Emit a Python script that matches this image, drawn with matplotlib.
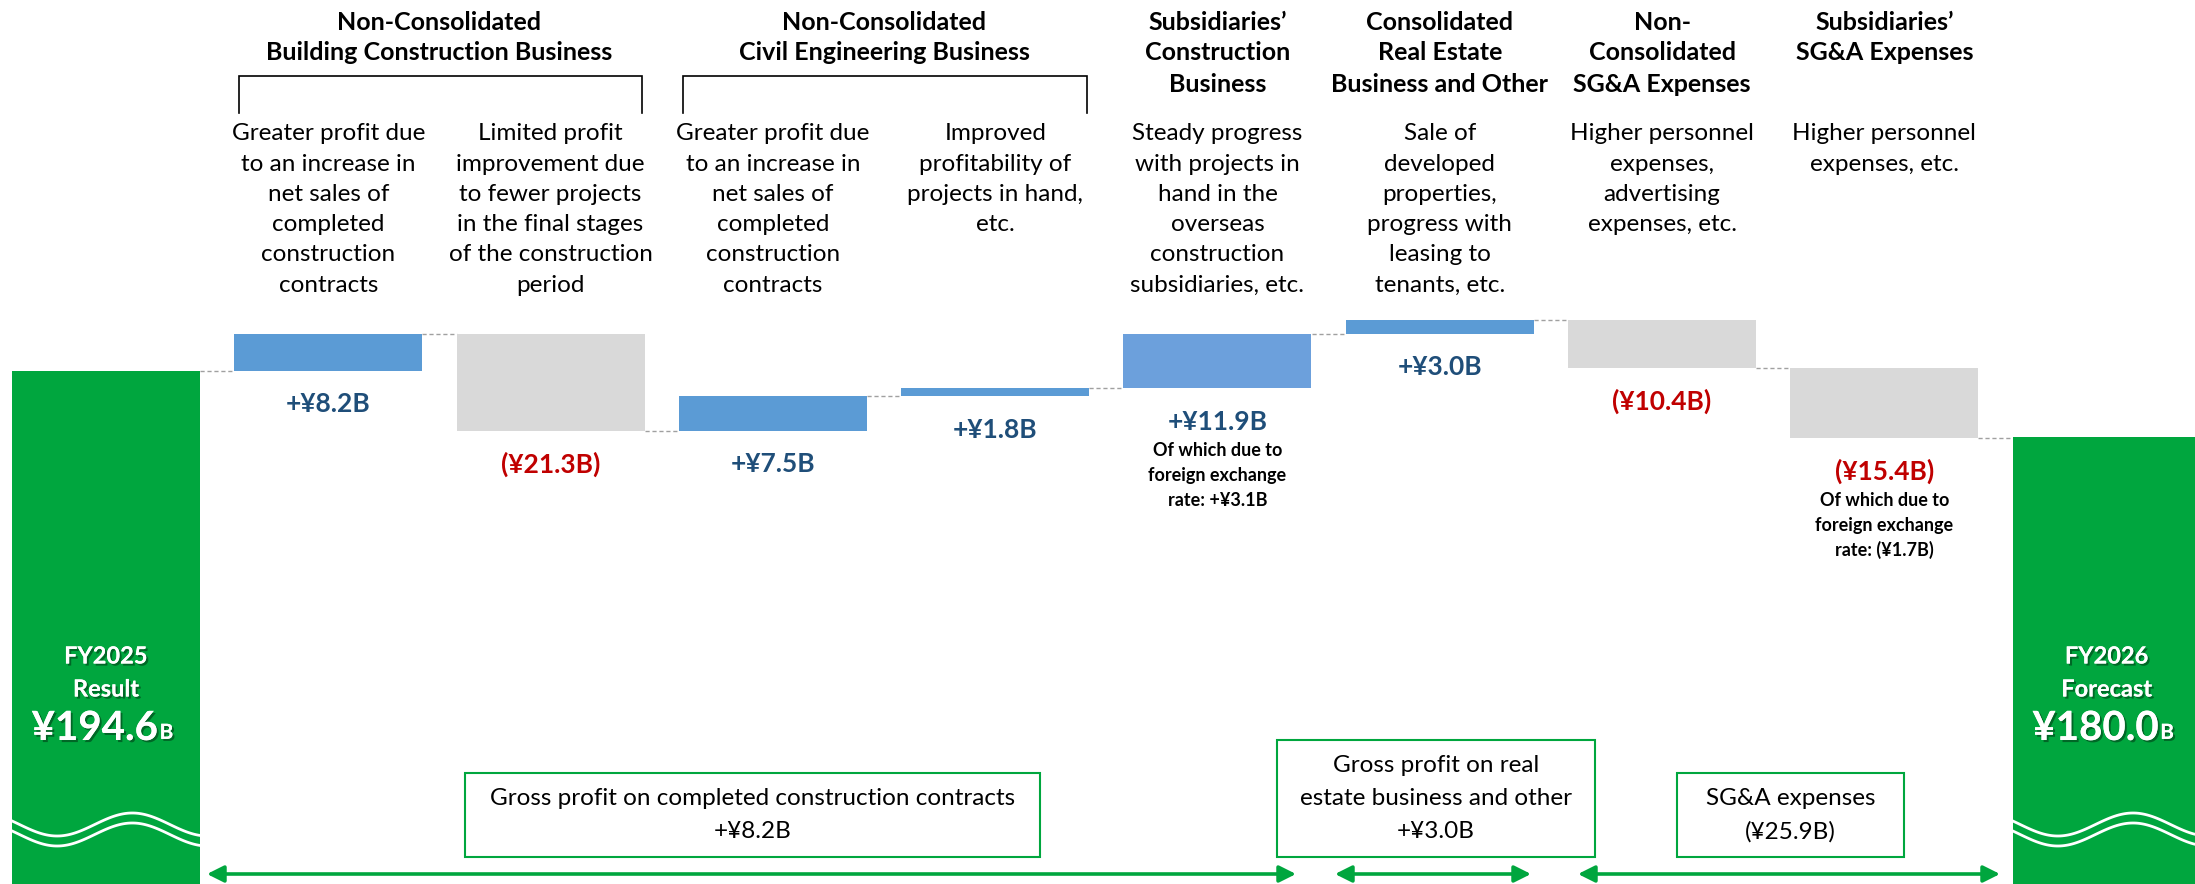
import numpy as np
import matplotlib
matplotlib.use("Agg")
import matplotlib.pyplot as plt
import matplotlib.patches as mpatches
import matplotlib.patheffects as pe
from matplotlib.transforms import blended_transform_factory

plt.rcParams['font.family'] = ['Lato', 'DejaVu Sans']

# ---- data ----
start_value = 194.6
end_value = 180.0
start_lines = ["FY2025", "Result"]
end_lines = ["FY2026", "Forecast"]
start_amount = "¥194.6"
end_amount = "¥180.0"
steps = [8.2, -21.3, 7.5, 1.8, 11.9, 3.0, -10.4, -15.4]
step_labels = ["+¥8.2B", "(¥21.3B)", "+¥7.5B", "+¥1.8B",
               "+¥11.9B", "+¥3.0B", "(¥10.4B)", "(¥15.4B)"]
step_colors = ["#5B9BD5", "#D9D9D9", "#5B9BD5", "#5B9BD5",
               "#6CA0DC", "#5B9BD5", "#D9D9D9", "#D9D9D9"]
descriptions = [
    ["Greater profit due", "to an increase in", "net sales of", "completed", "construction", "contracts"],
    ["Limited profit", "improvement due", "to fewer projects", "in the final stages", "of the construction", "period"],
    ["Greater profit due", "to an increase in", "net sales of", "completed", "construction", "contracts"],
    ["Improved", "profitability of", "projects in hand,", "etc."],
    ["Steady progress", "with projects in", "hand in the", "overseas", "construction", "subsidiaries, etc."],
    ["Sale of", "developed", "properties,", "progress with", "leasing to", "tenants, etc."],
    ["Higher personnel", "expenses,", "advertising", "expenses, etc."],
    ["Higher personnel", "expenses, etc."],
]
headers = [
    (1.5, ["Non-Consolidated", "Building Construction Business"]),
    (3.5, ["Non-Consolidated", "Civil Engineering Business"]),
    (5, ["Subsidiaries\u2019", "Construction", "Business"]),
    (6, ["Consolidated", "Real Estate", "Business and Other"]),
    (7, ["Non-", "Consolidated", "SG&A Expenses"]),
    (8, ["Subsidiaries\u2019", "SG&A Expenses"]),
]
brackets = [(1, 2), (3, 4)]
notes = {5: ["Of which due to", "foreign exchange", "rate: +¥3.1B"],
         8: ["Of which due to", "foreign exchange", "rate: (¥1.7B)"]}
boxes = [
    (["Gross profit on completed construction contracts", "+¥8.2B"], (465, 773, 1040, 857), (207, 1296)),
    (["Gross profit on real", "estate business and other", "+¥3.0B"], (1277, 740, 1595, 857), (1335, 1531)),
    (["SG&A expenses", "(¥25.9B)"], (1677, 773, 1904, 857), (1578, 2000)),
]

GREEN = "#00A63E"
BLUE_TXT = "#1F4E79"
RED_TXT = "#C00000"

W, H = 2195, 884
fig = plt.figure(figsize=(W / 100, H / 100), dpi=100)
ax = fig.add_axes([0, 0, 1, 1])
ax.axis('off')

step_px = 222.3
x0_px = 106
px_per_b = 4.55
ax.set_xlim(-x0_px / step_px, (W - x0_px) / step_px)
ymin = start_value - (H - 371) / px_per_b
ymax = start_value + 371 / px_per_b
ax.set_ylim(ymin, ymax)
bw = 188 / step_px

tr = blended_transform_factory(ax.transData, ax.transAxes)


def fy(px):
    return 1 - px / H


# ---- waterfall bars ----
n = len(steps)
cum = start_value + np.concatenate([[0], np.cumsum(steps)])
ax.bar(0, start_value - ymin, bottom=ymin, width=bw, color=GREEN, zorder=2)
ax.bar(n + 1, end_value - ymin, bottom=ymin, width=bw, color=GREEN, zorder=2)
for i, s in enumerate(steps):
    lo = min(cum[i], cum[i + 1])
    ax.bar(i + 1, abs(s), bottom=lo, width=bw, color=step_colors[i], zorder=2)

# connectors
for i in range(n + 1):
    ax.plot([i + bw / 2, i + 1 - bw / 2], [cum[i]] * 2,
            color="#A0A0A0", lw=1, ls=(0, (3, 2)), zorder=1)

# value labels
for i, s in enumerate(steps):
    lo = min(cum[i], cum[i + 1])
    col = BLUE_TXT if s > 0 else RED_TXT
    ax.annotate(step_labels[i], xy=(i + 1, lo), xytext=(0, -24), textcoords='offset points',
                ha='center', va='center', fontsize=19, fontweight='bold', color=col)
    if i + 1 in notes:
        for k, line in enumerate(notes[i + 1]):
            ax.annotate(line, xy=(i + 1, lo), xytext=(0, -24 - 21 - k * 18), textcoords='offset points',
                        ha='center', va='center', fontsize=13, fontweight='bold', color='black')

# headers
for xc, lines in headers:
    for k, line in enumerate(lines):
        ax.text(xc, fy(22 + k * 31), line, transform=tr, ha='center', va='center',
                fontsize=18, fontweight='bold', color='black')

# brackets
for a, b in brackets:
    xl, xr = a - bw / 2 + 0.02, b + bw / 2 - 0.01
    ax.plot([xl, xl, xr, xr], [fy(113), fy(76), fy(76), fy(113)], transform=tr,
            color='black', lw=1.2, solid_joinstyle='miter')

# descriptions
for i, lines in enumerate(descriptions):
    for k, line in enumerate(lines):
        ax.text(i + 1, fy(134 + k * 30.2), line, transform=tr, ha='center', va='center',
                fontsize=17.5, color='black')

# green bar texts
shadow = [pe.withSimplePatchShadow(offset=(1.5, -1.5), shadow_rgbFace='#003d17', alpha=0.6), pe.Normal()]
for xc, lines, amount in [(0, start_lines, start_amount), (n + 1, end_lines, end_amount)]:
    for k, line in enumerate(lines):
        ax.text(xc, fy(656 + k * 33), line, transform=tr, ha='center', va='center',
                fontsize=17, fontweight='bold', color='white', path_effects=shadow)
    t = ax.text(xc - 0.05, fy(740), amount, transform=tr, ha='center', va='baseline',
                fontsize=29, fontweight='bold', color='white', path_effects=shadow)
    ax.annotate("B", xy=(1, 0), xycoords=t, xytext=(1, 3), textcoords='offset points',
                ha='left', va='bottom', fontsize=15, fontweight='bold', color='white',
                path_effects=shadow)
    # wavy break
    t_ = np.linspace(0, 1, 100)
    xs = xc - bw / 2 + t_ * bw
    wave = 824.5 + 11.5 * np.cos(2 * np.pi * (t_ - 0.24) / 0.8)
    for off in (0, 10):
        ax.plot(xs, fy(wave + off), transform=tr, color='white', lw=2, zorder=3)

# bottom boxes and arrows
for lines, (x1, y1, x2, y2), (a1, a2) in boxes:
    rect = mpatches.Rectangle((x1 / W, fy(y2)), (x2 - x1) / W, (y2 - y1) / H,
                              transform=ax.transAxes, fill=False, edgecolor=GREEN, lw=1.5)
    ax.add_patch(rect)
    nl = len(lines)
    yc = (y1 + y2) / 2
    for k, line in enumerate(lines):
        ax.text((x1 + x2) / 2 / W, fy(yc + (k - (nl - 1) / 2) * 33.5), line, transform=ax.transAxes,
                ha='center', va='center', fontsize=17.5, color='black')
    ax.annotate('', xy=(a2 / W, fy(874)), xytext=(a1 / W, fy(874)), xycoords=ax.transAxes,
                textcoords=ax.transAxes,
                arrowprops=dict(arrowstyle='<|-|>,head_length=0.5,head_width=0.25',
                                color=GREEN, lw=2.6, mutation_scale=20, shrinkA=0, shrinkB=0))

fig.savefig("out.png", dpi=100)
